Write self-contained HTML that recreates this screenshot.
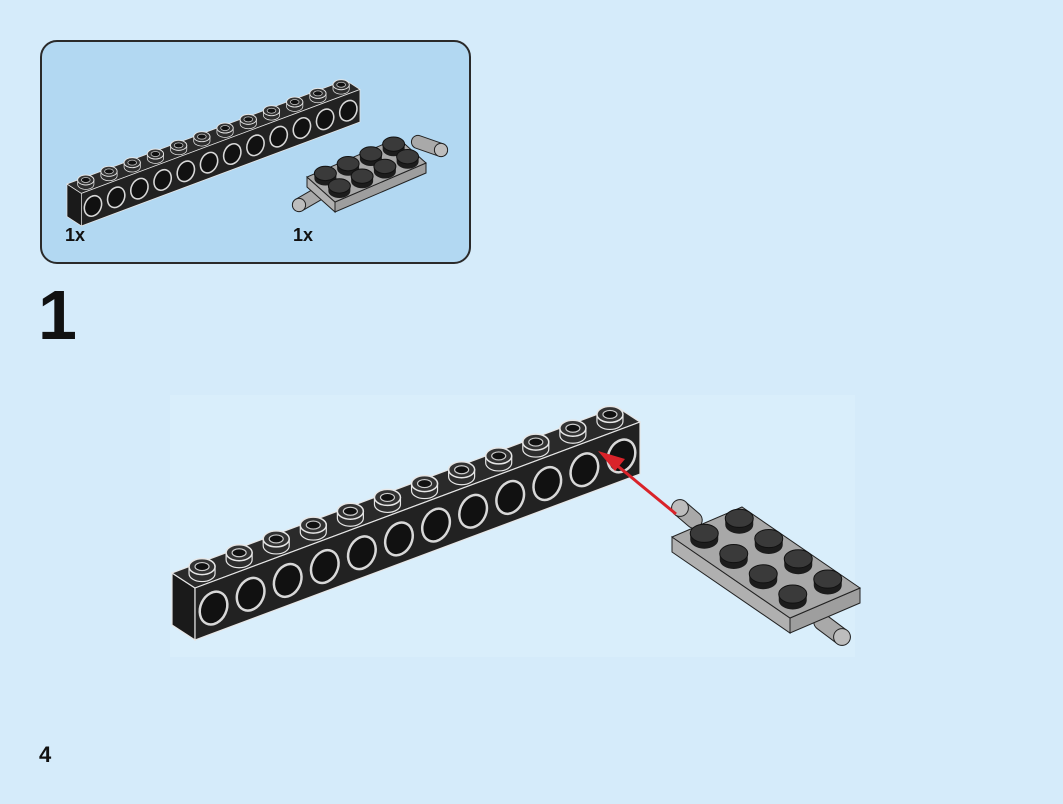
<!DOCTYPE html>
<html><head><meta charset="utf-8"><style>
html,body{margin:0;padding:0;width:1063px;height:804px;overflow:hidden;background:#d5ebfa;}
svg{display:block}
text{font-family:"Liberation Sans",Arial,sans-serif;font-weight:bold;fill:#111}
</style></head><body>
<svg id="s" width="1063" height="804" viewBox="0 0 1063 804">
  <rect x="0" y="0" width="1063" height="804" fill="#d5ebfa"/>
  <rect x="41" y="41" width="429" height="222" rx="16" fill="#b2d8f2" stroke="#2a2a2a" stroke-width="2"/>
  <rect x="170" y="395" width="685" height="262" fill="#d9eefb"/>
  <g id="smallBeam" transform="translate(-40.7,-174.7) scale(0.626)"></g>
  <g id="smallPlate"></g>
  <g id="mainBeam"></g>
  <g id="mainPlate"></g>
  <g>
    <line x1="676" y1="514" x2="614" y2="463" stroke="#d9232a" stroke-width="3"/>
    <polygon points="598,451 625,459 615,471" fill="#d9232a"/>
  </g>
  <text x="65" y="241" font-size="18">1x</text>
  <text x="293" y="241" font-size="18">1x</text>
  <text x="38" y="339" font-size="70">1</text>
  <text x="39" y="762" font-size="22">4</text>
</svg>
<script>
const NS="http://www.w3.org/2000/svg";
function mk(parent,tag,attrs){const e=document.createElementNS(NS,tag);for(const k in attrs)e.setAttribute(k,attrs[k]);parent.appendChild(e);return e;}
function pts(a){return a.map(p=>p[0].toFixed(1)+","+p[1].toFixed(1)).join(" ");}

function drawBeam(g){
  const A=[195,588], B=[640,422], d=[-23,-15], h=52, n=12;
  const ux=(B[0]-A[0])/n, uy=(B[1]-A[1])/n;
  const line="#e6e6e6", dark="#222";
  mk(g,"polygon",{points:pts([[A[0]+d[0],A[1]+d[1]],A,[A[0],A[1]+h],[A[0]+d[0],A[1]+d[1]+h]]),fill:"#1a1a1a",stroke:line,"stroke-width":1.2});
  mk(g,"polygon",{points:pts([A,B,[B[0]+d[0],B[1]+d[1]],[A[0]+d[0],A[1]+d[1]]]),fill:"#2a2a2a",stroke:line,"stroke-width":1.2});
  mk(g,"polygon",{points:pts([A,B,[B[0],B[1]+h],[A[0],A[1]+h]]),fill:dark,stroke:line,"stroke-width":1.2});
  for(let i=0;i<n;i++){
    const cx=A[0]+ux*(i+0.5), cy=A[1]+uy*(i+0.5)+h/2+1;
    const hole=mk(g,"ellipse",{cx:cx,cy:cy,rx:13,ry:17,transform:`rotate(25 ${cx} ${cy})`,fill:"#111",stroke:"#d8d8d8","stroke-width":2.5});
    
    
    const sx=A[0]+d[0]/2+ux*(i+0.5), sy=A[1]+d[1]/2+uy*(i+0.5);
    mk(g,"path",{d:`M${sx-13},${sy} L${sx-13},${sy-7} L${sx+13},${sy-7} L${sx+13},${sy} A13,8 0 0 1 ${sx-13},${sy} Z`,fill:"#2e2e2e",stroke:line,"stroke-width":1.2});
    const stud=mk(g,"ellipse",{cx:sx,cy:sy-7,rx:13,ry:8,fill:"#333",stroke:line,"stroke-width":1.5});
    
    
    mk(g,"ellipse",{cx:sx,cy:sy-7,rx:7,ry:4,fill:"#111",stroke:"#ccc","stroke-width":1.2});
  }
}
drawBeam(document.getElementById("smallBeam"));
drawBeam(document.getElementById("mainBeam"));

// sides: list of edges [from,to] indexes into corners [P1,P2,P3,P4]
function drawPlate(g,P1,L,S,t,r,pinA,pinB,sides){
  const P2=[P1[0]+S[0],P1[1]+S[1]], P4=[P1[0]+L[0],P1[1]+L[1]], P3=[P2[0]+L[0],P2[1]+L[1]];
  const C=[P1,P2,P3,P4];
  const dn=p=>[p[0],p[1]+t];
  [pinA,pinB].forEach(p=>{
    const pin=mk(g,"g",{});
    
    
    mk(pin,"line",{x1:p[0],y1:p[1],x2:p[2],y2:p[3],stroke:"#222","stroke-width":r*1.1+2,"stroke-linecap":"round"});
    mk(pin,"line",{x1:p[0],y1:p[1],x2:p[2],y2:p[3],stroke:"#a9a9a9","stroke-width":r*1.1,"stroke-linecap":"round"});
    mk(pin,"circle",{cx:p[2],cy:p[3],r:r*0.6,fill:"#bdbdbd",stroke:"#222","stroke-width":1});
  });
  sides.forEach((s,k)=>{
    const a=C[s[0]], b=C[s[1]];
    mk(g,"polygon",{points:pts([a,b,dn(b),dn(a)]),fill:k?"#9e9e9e":"#b0b0b0",stroke:"#222","stroke-width":1});
  });
  mk(g,"polygon",{points:pts(C),fill:"#a8a8a8",stroke:"#222","stroke-width":1});
  for(let i=0;i<4;i++)for(let j=0;j<2;j++){
    const cx=P1[0]+L[0]*(i+0.5)/4+S[0]*(j+0.5)/2, cy=P1[1]+L[1]*(i+0.5)/4+S[1]*(j+0.5)/2;
    const st=mk(g,"g",{});
    
    
    mk(st,"path",{d:`M${cx-r},${cy} L${cx-r},${cy-r*0.45} L${cx+r},${cy-r*0.45} L${cx+r},${cy} A${r},${r*0.65} 0 0 1 ${cx-r},${cy} Z`,fill:"#1c1c1c"});
    mk(st,"ellipse",{cx:cx,cy:cy-r*0.45,rx:r,ry:r*0.65,fill:"#3a3a3a",stroke:"#111","stroke-width":1});
  }
}
drawPlate(document.getElementById("mainPlate"),[672,537],[118,81],[70,-30],15,14,
  [694,520,680,508],[822,622,842,637],[[0,3],[3,2]]);
drawPlate(document.getElementById("smallPlate"),[307,177],[91,-39],[28,25],10,11,
  [318,194,299,205],[418,142,441,150],[[0,1],[1,2]]);
</script>
</body></html>
